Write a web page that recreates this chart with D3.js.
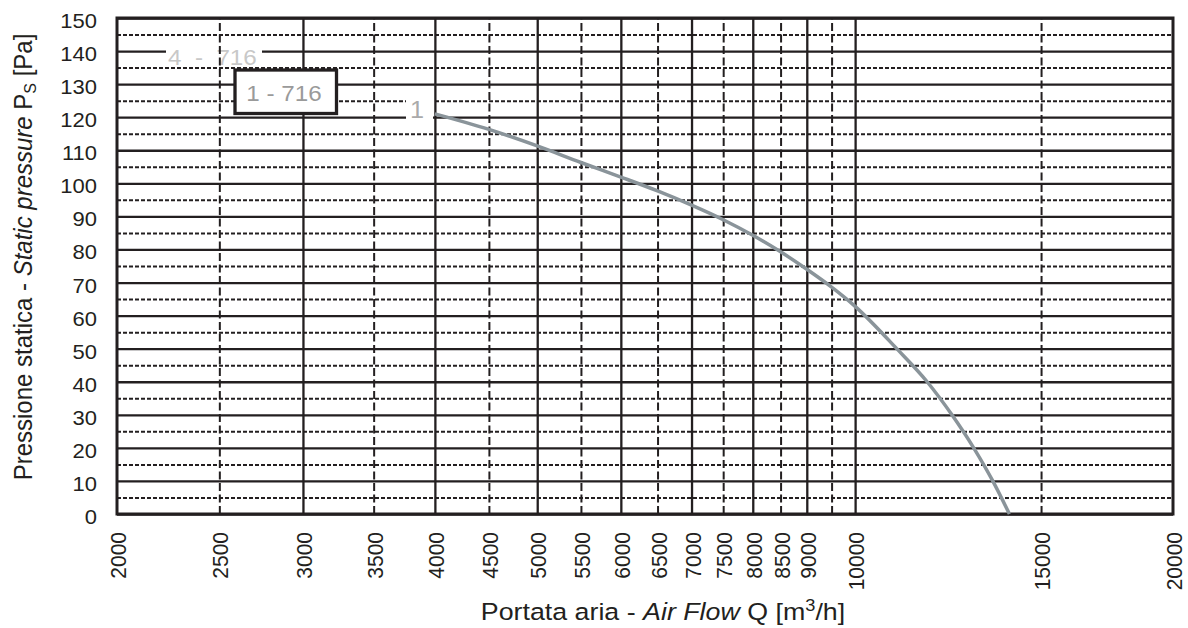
<!DOCTYPE html>
<html>
<head>
<meta charset="utf-8">
<script src="https://cdn.jsdelivr.net/npm/d3@7"></script>
<style>
    body { margin: 0; background: #fff; }
    text { font-family: "Liberation Sans", Arial, sans-serif; }
</style>
</head>
<body>
<svg id="chart" width="1188" height="628"></svg>
<script>
// curve 1 - 716
var flow = [4000, 4500, 5000, 5500, 6000, 6500, 7000, 7500, 8000, 8500, 9000, 9500, 10000, 10950, 11700, 12350, 12950, 13500, 14000];
var pressure = [121, 116.3, 111.3, 106.3, 101.9, 97.7, 93.4, 89, 84.3, 79.3, 74, 68.6, 62.8, 50, 40, 30, 20, 10, 0];

var yLabels = [0, 10, 20, 30, 40, 50, 60, 70, 80, 90, 100, 110, 120, 130, 140, 150];
var yHalf = [5, 15, 25, 35, 45, 55, 65, 75, 85, 95, 105, 115, 125, 135, 145];
var xSolid = [3000, 4000, 5000, 6000, 7000, 8000, 9000, 10000];
var xDashed = [2500, 3500, 4500, 5500, 6500, 7500, 8500, 9500, 15000];
var xLabels = [2000, 2500, 3000, 3500, 4000, 4500, 5000, 5500, 6000, 6500, 7000, 7500, 8000, 8500, 9000, 10000, 15000, 20000];

(function () {
    var ink = "#231f20",
        svg = d3.select("#chart"),
        pLeft = 117, pRight = 1173, pTop = 18, pBottom = 514,
        wide = 1.1; // the lettering in the picture is a bit wider than Arial

    var x = d3.scaleLog().domain([2000, 20000]).range([pLeft, pRight]);
    var y = d3.scaleLinear().domain([0, 150]).range([pBottom, pTop]);

    var grid = function (g, axis, dash, width) {
        g.call(axis);
        g.select(".domain").remove();
        g.selectAll(".tick line")
            .attr("stroke", ink)
            .attr("stroke-width", width)
            .attr("stroke-dasharray", dash);
    };

    // horizontal grid
    svg.append("g").attr("transform", "translate(" + pLeft + ",0)")
        .call(grid, d3.axisLeft(y).tickValues(yLabels).tickSize(-(pRight - pLeft)).tickFormat(""), null, 2.3);
    svg.append("g").attr("transform", "translate(" + pLeft + ",0)")
        .call(grid, d3.axisLeft(y).tickValues(yHalf).tickSize(-(pRight - pLeft)).tickFormat(""), "4,2", 2);

    // ghost label sits under the vertical grid
    svg.append("rect").attr("x", 166).attr("y", 43).attr("width", 96).attr("height", 23).attr("fill", "#fff");
    svg.append("text").attr("transform", "translate(168,65) scale(" + wide + ",1)")
        .attr("font-size", 22).attr("fill", "#c8c8c8")
        .attr("xml:space", "preserve").text("4  -  716");

    // vertical grid
    svg.append("g").attr("transform", "translate(0," + pBottom + ")")
        .call(grid, d3.axisBottom(x).tickValues(xSolid).tickSize(-(pBottom - pTop)).tickFormat(""), null, 2.3);
    svg.append("g").attr("transform", "translate(0," + pBottom + ")")
        .call(grid, d3.axisBottom(x).tickValues(xDashed).tickSize(-(pBottom - pTop)).tickFormat(""), "8,3.5", 2);

    // frame
    svg.append("rect")
        .attr("x", pLeft).attr("y", pTop)
        .attr("width", pRight - pLeft).attr("height", pBottom - pTop)
        .attr("fill", "none").attr("stroke", ink).attr("stroke-width", 3);

    // tick labels
    svg.append("g").selectAll("text").data(yLabels).enter().append("text")
        .attr("transform", function (d) { return "translate(97," + (y(d) + 10) + ") scale(" + wide + ",1)"; })
        .attr("text-anchor", "end").attr("font-size", 20).attr("fill", ink)
        .text(function (d) { return d; });

    svg.append("g").selectAll("text").data(xLabels).enter().append("text")
        .attr("transform", function (d) { return "translate(" + (x(d) + 9) + ",532) scale(1.05,1) rotate(-90)"; })
        .attr("text-anchor", "end").attr("font-size", 21).attr("fill", ink)
        .text(function (d) { return d; });

    // curve
    svg.append("path")
        .datum(d3.zip(flow, pressure))
        .attr("fill", "none").attr("stroke", "#8a949a").attr("stroke-width", 3.5)
        .attr("d", d3.line()
            .x(function (d) { return x(d[0]); })
            .y(function (d) { return y(d[1]); })
            .curve(d3.curveMonotoneX));

    // curve number
    svg.append("rect").attr("x", 406).attr("y", 100).attr("width", 27).attr("height", 22).attr("fill", "#fff");
    svg.append("text").attr("transform", "translate(410,118) scale(" + wide + ",1)")
        .attr("font-size", 23).attr("fill", "#aaaaaa").text("1");

    // legend box
    svg.append("rect").attr("x", 235).attr("y", 70).attr("width", 101.5).attr("height", 43.5)
        .attr("fill", "#fff").attr("stroke", ink).attr("stroke-width", 3.3);
    svg.append("text").attr("transform", "translate(284,101) scale(" + wide + ",1)")
        .attr("text-anchor", "middle").attr("font-size", 22).attr("fill", "#9a9a9a").text("1 - 716");

    // axis titles
    var yt = svg.append("text")
        .attr("transform", "translate(32,257) scale(1.06,1) rotate(-90)")
        .attr("text-anchor", "middle").attr("font-size", 24).attr("fill", ink);
    yt.append("tspan").text("Pressione statica - ");
    yt.append("tspan").attr("font-style", "italic").text("Static pressure");
    yt.append("tspan").text(" P");
    yt.append("tspan").attr("font-size", 16).attr("dy", 4).text("S");
    yt.append("tspan").attr("dy", -4).text(" [Pa]");

    var xt = svg.append("text")
        .attr("transform", "translate(663,620) scale(1.14,1)")
        .attr("text-anchor", "middle").attr("font-size", 23.5).attr("fill", ink);
    xt.append("tspan").text("Portata aria - ");
    xt.append("tspan").attr("font-style", "italic").text("Air Flow");
    xt.append("tspan").text(" Q [m");
    xt.append("tspan").attr("font-size", 16).attr("dy", -9).text("3");
    xt.append("tspan").attr("dy", 9).text("/h]");
})();
</script>
</body>
</html>
